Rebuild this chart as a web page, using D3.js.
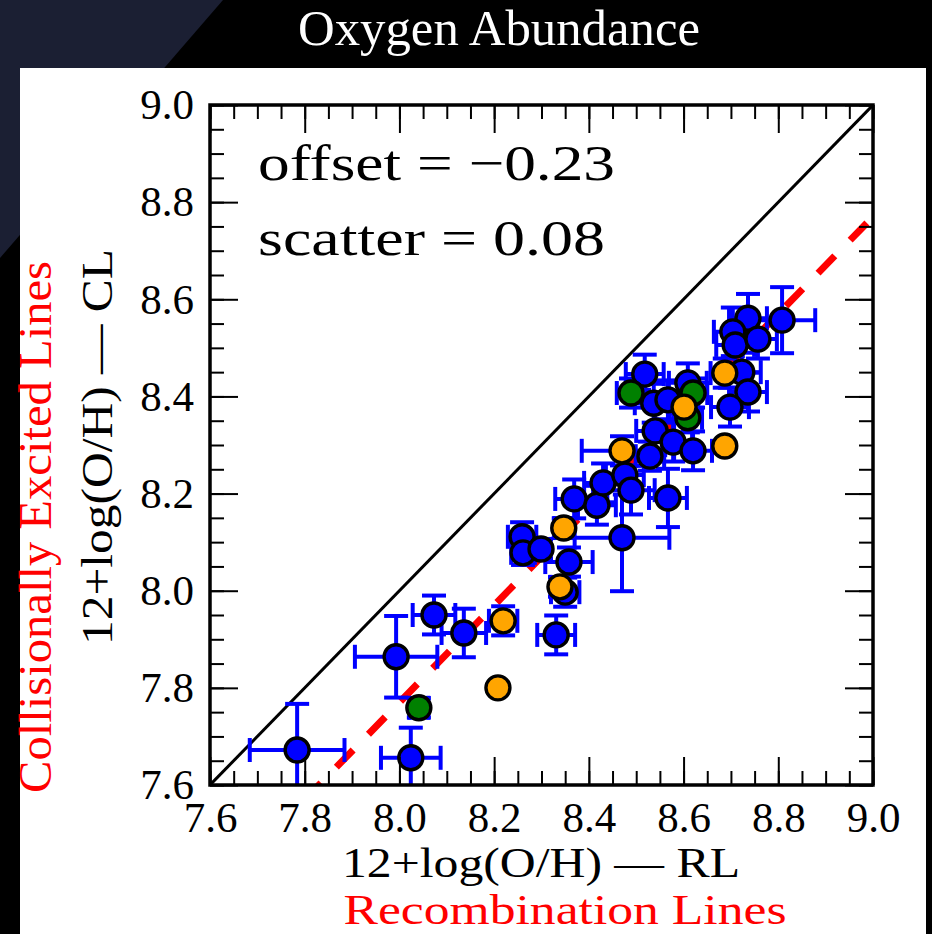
<!DOCTYPE html>
<html><head><meta charset="utf-8">
<script src="https://cdn.jsdelivr.net/npm/d3@7"></script>
<style>html,body{margin:0;padding:0;background:#000;} svg{display:block;}</style>
</head><body>
<svg id="chart" width="932" height="934"></svg>
<script>
// ---- data (12+log(O/H): RL on x, CL on y) ----
const blueRL  = [7.784,8.024,7.993,8.073,8.136,8.331,8.259,8.261,8.299,8.358,8.350,8.470,8.369,8.417,8.430,8.476,8.489,8.567,8.529,8.518,8.537,8.609,8.567,8.540,8.578,8.620,8.808,8.736,8.704,8.709,8.757,8.723,8.736,8.698];
const blueCL  = [7.672,7.656,7.864,7.950,7.913,7.909,8.111,8.078,8.086,8.059,7.997,8.109,8.189,8.176,8.222,8.238,8.207,8.191,8.277,8.446,8.386,8.428,8.393,8.329,8.306,8.288,8.557,8.561,8.533,8.506,8.518,8.450,8.409,8.378];
const blueRLerr = [0.10,0.063,0.087,0.045,0.047,0.04,0.03,0.025,0.02,0.05,0.03,0.10,0.04,0.04,0.04,0.04,0.05,0.04,0.03,0.04,0.04,0.04,0.04,0.04,0.04,0.04,0.07,0.04,0.04,0.04,0.04,0.04,0.04,0.04];
const blueCLerr = [0.095,0.062,0.084,0.04,0.05,0.04,0.03,0.025,0.02,0.03,0.03,0.11,0.04,0.04,0.04,0.04,0.05,0.06,0.03,0.04,0.04,0.04,0.04,0.05,0.04,0.04,0.068,0.05,0.05,0.04,0.04,0.04,0.04,0.04];

const greenRL = [8.041,8.489,8.620,8.609];
const greenCL = [7.759,8.407,8.407,8.356];
const greenRLerr = [0.02,0.03,0.03,0.03];
const greenCLerr = [0.02,0.03,0.03,0.03];

const orangeRL = [8.219,8.208,8.347,8.339,8.470,8.601,8.687,8.687];
const orangeCL = [7.938,7.800,8.129,8.008,8.288,8.378,8.448,8.298];
const orangeRLerr = [0.03,0,0.02,0.02,0.085,0.03,0.03,0];
const orangeCLerr = [0.03,0,0.02,0.02,0.03,0.03,0.03,0];

const majorTicks = [7.6,7.8,8.0,8.2,8.4,8.6,8.8,9.0];
const tickLabels = ["7.6","7.8","8.0","8.2","8.4","8.6","8.8","9.0"];
const minorTicks = [7.6,7.65,7.7,7.75,7.8,7.85,7.9,7.95,8.0,8.05,8.1,8.15,8.2,8.25,8.3,8.35,8.4,8.45,8.5,8.55,8.6,8.65,8.7,8.75,8.8,8.85,8.9,8.95,9.0];
const offsetValue = -0.23;
const scatterValue = 0.08;
const domain = [7.6, 9.0];

// ---- drawing ----
const svg = d3.select("#chart");
const serif = "'Liberation Serif','Times New Roman',serif";

svg.append("rect").attr("width",932).attr("height",934).attr("fill","#000");
svg.append("polygon").attr("points","0,0 223,0 0,258").attr("fill","#1b1f33");
svg.append("rect").attr("x",20).attr("y",68).attr("width",906).attr("height",866).attr("fill","#fff");

svg.append("text").attr("x",499).attr("y",45).attr("text-anchor","middle")
  .attr("font-family",serif).attr("font-size",50).attr("fill","#fff")
  .attr("textLength",402).attr("lengthAdjust","spacingAndGlyphs")
  .text("Oxygen Abundance");

const L=210,R=873,T=105,B=785;
const x = d3.scaleLinear().domain(domain).range([L,R]);
const y = d3.scaleLinear().domain(domain).range([B,T]);

svg.append("defs").append("clipPath").attr("id","clip")
  .append("rect").attr("x",L).attr("y",T).attr("width",R-L).attr("height",B-T);

const plot = svg.append("g").attr("clip-path","url(#clip)");

// 1:1 line
plot.append("line").attr("x1",x(7.6)).attr("y1",y(7.6)).attr("x2",x(9.0)).attr("y2",y(9.0))
  .attr("stroke","#000").attr("stroke-width",3);
// offset line
plot.append("line").attr("x1",x(7.6)).attr("y1",y(7.6+offsetValue)).attr("x2",x(9.0)).attr("y2",y(9.0+offsetValue))
  .attr("stroke","#ff0000").attr("stroke-width",7).attr("stroke-dasharray","24,22").attr("stroke-dashoffset",3);

function build(rl,cl,erx,ery,fill){
  return rl.map((v,i)=>({x:v,y:cl[i],ex:erx[i],ey:ery[i],fill}));
}
const blue = build(blueRL,blueCL,blueRLerr,blueCLerr,"#0000ff");
const green = build(greenRL,greenCL,greenRLerr,greenCLerr,"#008000");
const orange = build(orangeRL,orangeCL,orangeRLerr,orangeCLerr,"#ffa500");
const all = blue.concat(green, orange);

const eb = plot.append("g").attr("stroke","#0000ff").attr("stroke-width",4).attr("fill","none");
const cap = 12;
all.filter(d=>d.ex>0||d.ey>0).forEach(d=>{
  const cx=x(d.x), cy=y(d.y);
  if(d.ex>0){
    eb.append("line").attr("x1",x(d.x-d.ex)).attr("x2",x(d.x+d.ex)).attr("y1",cy).attr("y2",cy);
    eb.append("line").attr("x1",x(d.x-d.ex)).attr("x2",x(d.x-d.ex)).attr("y1",cy-cap).attr("y2",cy+cap);
    eb.append("line").attr("x1",x(d.x+d.ex)).attr("x2",x(d.x+d.ex)).attr("y1",cy-cap).attr("y2",cy+cap);
  }
  if(d.ey>0){
    eb.append("line").attr("y1",y(d.y-d.ey)).attr("y2",y(d.y+d.ey)).attr("x1",cx).attr("x2",cx);
    eb.append("line").attr("y1",y(d.y-d.ey)).attr("y2",y(d.y-d.ey)).attr("x1",cx-cap).attr("x2",cx+cap);
    eb.append("line").attr("y1",y(d.y+d.ey)).attr("y2",y(d.y+d.ey)).attr("x1",cx-cap).attr("x2",cx+cap);
  }
});

plot.append("g").selectAll("circle").data(all).join("circle")
  .attr("cx",d=>x(d.x)).attr("cy",d=>y(d.y)).attr("r",12)
  .attr("fill",d=>d.fill).attr("stroke","#000").attr("stroke-width",3.4);

// axes: inward ticks on all sides
function styleAxis(g){ g.select(".domain").remove(); g.selectAll(".tick line").attr("stroke","#000").attr("stroke-width",2); }
const fmt = d => tickLabels[majorTicks.findIndex(t=>Math.abs(t-d)<1e-9)];

svg.append("g").attr("transform",`translate(0,${B})`).call(d3.axisBottom(x).tickValues(minorTicks).tickSize(-14).tickFormat("")).call(styleAxis);
const xb = svg.append("g").attr("transform",`translate(0,${B})`).call(d3.axisBottom(x).tickValues(majorTicks).tickSize(-28).tickPadding(16).tickFormat(fmt)).call(styleAxis);
xb.selectAll("text").attr("font-family",serif).attr("font-size",43).attr("fill","#000");

svg.append("g").attr("transform",`translate(0,${T})`).call(d3.axisTop(x).tickValues(minorTicks).tickSize(-14).tickFormat("")).call(styleAxis);
svg.append("g").attr("transform",`translate(0,${T})`).call(d3.axisTop(x).tickValues(majorTicks).tickSize(-28).tickFormat("")).call(styleAxis);

svg.append("g").attr("transform",`translate(${L},0)`).call(d3.axisLeft(y).tickValues(minorTicks).tickSize(-14).tickFormat("")).call(styleAxis);
const yl = svg.append("g").attr("transform",`translate(${L},0)`).call(d3.axisLeft(y).tickValues(majorTicks).tickSize(-28).tickPadding(16).tickFormat(fmt)).call(styleAxis);
yl.selectAll("text").attr("font-family",serif).attr("font-size",43).attr("fill","#000");

svg.append("g").attr("transform",`translate(${R},0)`).call(d3.axisRight(y).tickValues(minorTicks).tickSize(-14).tickFormat("")).call(styleAxis);
svg.append("g").attr("transform",`translate(${R},0)`).call(d3.axisRight(y).tickValues(majorTicks).tickSize(-28).tickFormat("")).call(styleAxis);

svg.append("rect").attr("x",L).attr("y",T).attr("width",R-L).attr("height",B-T)
  .attr("fill","none").attr("stroke","#000").attr("stroke-width",3.5);

// annotations
svg.append("text").attr("x",258).attr("y",180).attr("font-family",serif).attr("font-size",50)
  .attr("textLength",357).attr("lengthAdjust","spacingAndGlyphs")
  .text("offset = " + (offsetValue<0?"\u2212":"") + Math.abs(offsetValue).toFixed(2));
svg.append("text").attr("x",258).attr("y",255).attr("font-family",serif).attr("font-size",50)
  .attr("textLength",347).attr("lengthAdjust","spacingAndGlyphs")
  .text("scatter = " + scatterValue.toFixed(2));

// axis labels
svg.append("text").attr("x",541).attr("y",877).attr("text-anchor","middle").attr("font-family",serif)
  .attr("font-size",42).attr("textLength",398).attr("lengthAdjust","spacingAndGlyphs").text("12+log(O/H) \u2014 RL");
svg.append("text").attr("x",565).attr("y",924).attr("text-anchor","middle").attr("font-family",serif)
  .attr("font-size",42).attr("fill","#ff0000").attr("textLength",443).attr("lengthAdjust","spacingAndGlyphs").text("Recombination Lines");
svg.append("text").attr("transform","translate(112,447) rotate(-90)").attr("text-anchor","middle").attr("font-family",serif)
  .attr("font-size",44).attr("textLength",396).attr("lengthAdjust","spacingAndGlyphs").text("12+log(O/H) \u2014 CL");
svg.append("text").attr("transform","translate(51,527) rotate(-90)").attr("text-anchor","middle").attr("font-family",serif)
  .attr("font-size",46).attr("fill","#ff0000").attr("textLength",532).attr("lengthAdjust","spacingAndGlyphs").text("Collisionally Excited Lines");
</script>
</body></html>
